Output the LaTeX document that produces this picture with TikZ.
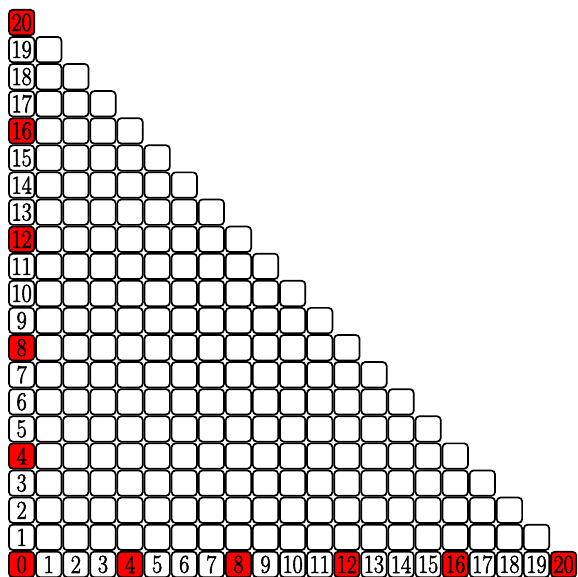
\documentclass[tikz,border=0pt]{standalone}
\usepackage{graphicx}
\usepackage{fontspec}
\usepackage{tikz}
\usetikzlibrary{positioning}
\newfontfamily\numfont[FakeBold=2.5]{Latin Modern Roman}
\newcommand{\axisnum}[1]{\scalebox{0.85}[1]{#1}}

\begin{document}
\begin{tikzpicture}[
    cell/.style={
      rectangle, draw=black, line width=1.8pt, rounded corners=4pt,
      minimum size=1cm-1.8pt, inner sep=0pt, outer sep=0pt,
      fill=white, font=\numfont\fontsize{27}{27}\selectfont
    },
    hot/.style={fill=red},
    cool/.style={}
  ]
  \useasboundingbox (-0.8,-0.46) rectangle (20.53,20.83);

  % inner cells
  \foreach \r in {1,...,19}{
    \pgfmathtruncatemacro{\last}{20-\r}
    \foreach \c in {1,...,\last}
      \node[cell] (c-\c-\r) at (\c,\r) {};
  }

  % numbered cells on both axes
  \foreach \n in {0,...,20}{
    \pgfmathtruncatemacro{\m}{mod(\n,4)}
    \ifnum\m=0 \def\kind{hot}\else\def\kind{cool}\fi
    \node[cell,\kind] (c-0-\n) at (0,\n) {\axisnum{\n}};
    \ifnum\n>0
      \node[cell,\kind] (c-\n-0) at (\n,0) {\axisnum{\n}};
    \fi
  }
\end{tikzpicture}
\end{document}
